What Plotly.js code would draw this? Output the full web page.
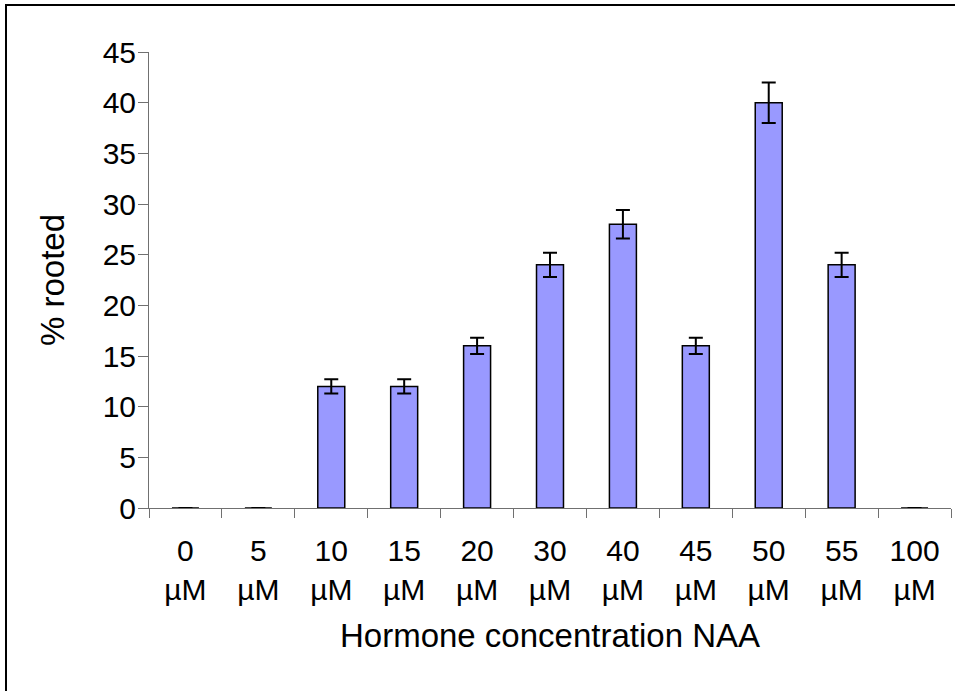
<!DOCTYPE html>
<html>
<head>
<meta charset="utf-8">
<script src="https://cdn.plot.ly/plotly-3.0.1.min.js"></script>
<style>
  html, body { margin: 0; padding: 0; background: #fff; }
  #wrap { position: relative; width: 955px; height: 691px; overflow: hidden; }
  #chart { width: 955px; height: 691px; }
  #frame { position: absolute; left: 5px; top: 4px; width: 960px; height: 700px;
           border-top: 2px solid #000; border-left: 2px solid #000; pointer-events: none; }
</style>
</head>
<body>
<div id="wrap">
  <div id="chart"></div>
  <div id="frame"></div>
</div>
<script>
const categories = ["0", "5", "10", "15", "20", "30", "40", "45", "50", "55", "100"];
const unitLabel = "µM";
const percentRooted = [0, 0, 12, 12, 16, 24, 28, 16, 40, 24, 0];
const errorValues = [0, 0, 0.7, 0.7, 0.8, 1.2, 1.4, 0.8, 2.0, 1.2, 0];
const yTicks = [0, 5, 10, 15, 20, 25, 30, 35, 40, 45];

const tickLabels = categories.map(c => c + "<br>" + unitLabel);
const FONT = "Liberation Sans, Arial, sans-serif";

const trace = {
  type: "bar",
  x: tickLabels,
  y: percentRooted,
  marker: { color: "#9999FF", line: { color: "#000000", width: 1.5 } },
  width: 0.37,
  error_y: { type: "data", array: errorValues, visible: true, color: "#000000", thickness: 2, width: 7 },
  hoverinfo: "x+y"
};

const layout = {
  width: 955, height: 691,
  margin: { l: 149, r: 4, t: 52, b: 183, pad: 0 },
  paper_bgcolor: "#ffffff",
  plot_bgcolor: "#ffffff",
  showlegend: false,
  font: { family: FONT, size: 30, color: "#000000" },
  xaxis: {
    type: "category",
    categoryorder: "array",
    categoryarray: tickLabels,
    showline: true, linecolor: "#707070", linewidth: 1,
    ticks: "outside", tickson: "boundaries", ticklen: 9, tickcolor: "#707070", tickwidth: 1,
    showgrid: false, zeroline: false,
    tickfont: { family: FONT, size: 30, color: "#000" },
    ticklabelstandoff: 16,
    title: { text: "Hormone concentration NAA", font: { family: FONT, size: 33, color: "#000" }, standoff: 18 }
  },
  yaxis: {
    range: [0, 45],
    tickvals: yTicks,
    ticktext: yTicks.map(String),
    showline: true, linecolor: "#707070", linewidth: 1,
    ticks: "outside", ticklen: 10, tickcolor: "#707070", tickwidth: 1,
    showgrid: false, zeroline: false,
    tickfont: { family: FONT, size: 30, color: "#000" },
    ticklabelstandoff: -4,
    title: { text: "% rooted", font: { family: FONT, size: 33, color: "#000" }, standoff: 28 }
  }
};

Plotly.newPlot("chart", [trace], layout, { displayModeBar: false, staticPlot: true });
</script>
</body>
</html>
